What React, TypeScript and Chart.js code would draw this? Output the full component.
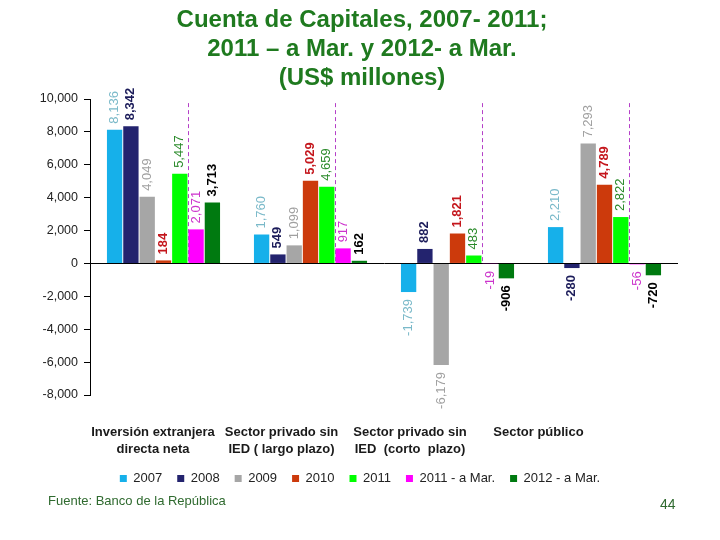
import React, { useEffect, useRef } from "react";
import { Chart, registerables } from "chart.js";

Chart.register(...registerables);

const FONT = '"Liberation Sans", Arial, sans-serif';

const titleLines = ["Cuenta de Capitales, 2007- 2011;", "2011 – a Mar. y 2012- a Mar.", "(US$ millones)"];
const categories = [
  ["Inversión extranjera", "directa neta"],
  ["Sector privado sin", "IED ( largo plazo)"],
  ["Sector privado sin", "IED  (corto  plazo)"],
  ["Sector público"],
];
const seriesNames = ["2007", "2008", "2009", "2010", "2011", "2011 - a Mar.", "2012 - a Mar."];
const v2007 = [8136, 1760, -1739, 2210];
const v2008 = [8342, 549, 882, -280];
const v2009 = [4049, 1099, -6179, 7293];
const v2010 = [184, 5029, 1821, 4789];
const v2011 = [5447, 4659, 483, 2822];
const v2011Mar = [2071, 917, -19, -56];
const v2012Mar = [3713, 162, -906, -720];
const seriesValues = [v2007, v2008, v2009, v2010, v2011, v2011Mar, v2012Mar];
const barColors = ["#16b0ea", "#23236e", "#a6a6a6", "#cc3a0c", "#00ff00", "#ff00ff", "#007a10"];
const labelColors = ["#7ab9c9", "#1c1c5a", "#a0a0a0", "#c4161c", "#2a8a2a", "#cc33cc", "#000000"];
const labelBold = [false, true, false, true, false, false, true];
const yMin = -8000;
const yMax = 10000;
const yStep = 2000;
const dividerTop = 9750;
const footerText = "Fuente: Banco de la República";
const pageNumber = "44";

const fmt = (v: number) => v.toLocaleString("en-US");

const annotatePlugin = {
  id: "annotate",
  afterDatasetsDraw(chart: any) {
    const ctx = chart.ctx;
    const y = chart.scales.y;
    const m4 = chart.getDatasetMeta(4);
    const m5 = chart.getDatasetMeta(5);
    ctx.save();
    ctx.strokeStyle = "#b540c8";
    ctx.lineWidth = 1;
    ctx.setLineDash([4, 3]);
    m5.data.forEach((bar: any, i: number) => {
      const prev = m4.data[i];
      const x = Math.round((prev.x + prev.width / 2 + bar.x - bar.width / 2) / 2) + 0.5;
      ctx.beginPath();
      ctx.moveTo(x, y.getPixelForValue(dividerTop));
      ctx.lineTo(x, y.getPixelForValue(0));
      ctx.stroke();
    });
    ctx.restore();

    chart.data.datasets.forEach((ds: any, di: number) => {
      const meta = chart.getDatasetMeta(di);
      meta.data.forEach((bar: any, i: number) => {
        const v = ds.data[i];
        ctx.save();
        ctx.font = `${labelBold[di] ? "bold " : ""}13px ${FONT}`;
        ctx.fillStyle = labelColors[di];
        ctx.textBaseline = "middle";
        if (v >= 0) {
          ctx.translate(bar.x, bar.y - 6);
          ctx.rotate(-Math.PI / 2);
          ctx.textAlign = "left";
        } else {
          ctx.translate(bar.x, bar.y + 7);
          ctx.rotate(-Math.PI / 2);
          ctx.textAlign = "right";
        }
        ctx.fillText(fmt(v), 0, 0);
        ctx.restore();
      });
    });
  },
  afterDraw(chart: any) {
    const ctx = chart.ctx;
    const area = chart.chartArea;
    ctx.save();
    // title
    ctx.font = `bold 24px ${FONT}`;
    ctx.fillStyle = "#1f7a1f";
    ctx.textAlign = "center";
    ctx.textBaseline = "alphabetic";
    titleLines.forEach((t, i) => ctx.fillText(t, 362, 27 + i * 29));
    // category labels
    ctx.font = `bold 13px ${FONT}`;
    ctx.fillStyle = "#1a1a1a";
    ctx.textBaseline = "middle";
    categories.forEach((lines, i) => {
      const cx = area.left + 63 + i * 128.5;
      lines.forEach((t, j) => ctx.fillText(t, cx, 432 + j * 17.5));
    });
    // footer
    ctx.font = `13px ${FONT}`;
    ctx.fillStyle = "#2f6a2f";
    ctx.textAlign = "left";
    ctx.fillText(footerText, 48, 501);
    ctx.font = `14px ${FONT}`;
    ctx.fillText(pageNumber, 660, 505);
    ctx.restore();
  },
};

export default function App() {
  const ref = useRef<HTMLCanvasElement | null>(null);
  useEffect(() => {
    if (!ref.current) return;
    const chart = new Chart(ref.current, {
      type: "bar",
      data: {
        labels: categories.map((c) => c.join(" ")),
        datasets: seriesNames.map((name, i) => ({
          label: name,
          data: seriesValues[i],
          backgroundColor: barColors[i],
          borderWidth: 0,
          barPercentage: 0.94,
          categoryPercentage: 0.776,
        })),
      },
      options: {
        responsive: false,
        animation: false,
        devicePixelRatio: 1,
        layout: { padding: { top: 99, right: 0, bottom: 45, left: 0 } },
        plugins: {
          title: { display: false },
          tooltip: { enabled: false },
          legend: {
            display: true,
            position: "bottom",
            labels: {
              boxWidth: 7,
              boxHeight: 7,
              padding: 15,
              color: "#222",
              font: { size: 13, family: FONT },
            },
          },
        },
        scales: {
          x: {
            display: true,
            grid: { display: false },
            border: { display: false },
            ticks: { display: false },
            afterFit: (s: any) => {
              s.height = 62;
            },
          },
          y: {
            min: yMin,
            max: yMax,
            border: { display: true, color: "#000", width: 1 },
            grid: {
              color: (c: any) => (c.tick && c.tick.value === 0 ? "#000" : "rgba(0,0,0,0)"),
              tickColor: "#000",
              tickLength: 6,
            },
            ticks: {
              stepSize: yStep,
              padding: 6,
              color: "#222",
              font: { size: 12.5, family: FONT },
              callback: (v: any) => fmt(Number(v)),
            },
            afterFit: (s: any) => {
              s.width = 90;
            },
          },
          y2: {
            position: "right",
            display: true,
            grid: { display: false },
            border: { display: false },
            ticks: { display: false },
            afterFit: (s: any) => {
              s.width = 42;
            },
          },
        },
      },
      plugins: [annotatePlugin],
    } as any);
    return () => chart.destroy();
  }, []);
  return (
    <div style={{ position: "fixed", left: 0, top: 0, width: 720, height: 540, background: "#fff" }}>
      <canvas ref={ref} width={720} height={540} />
    </div>
  );
}
